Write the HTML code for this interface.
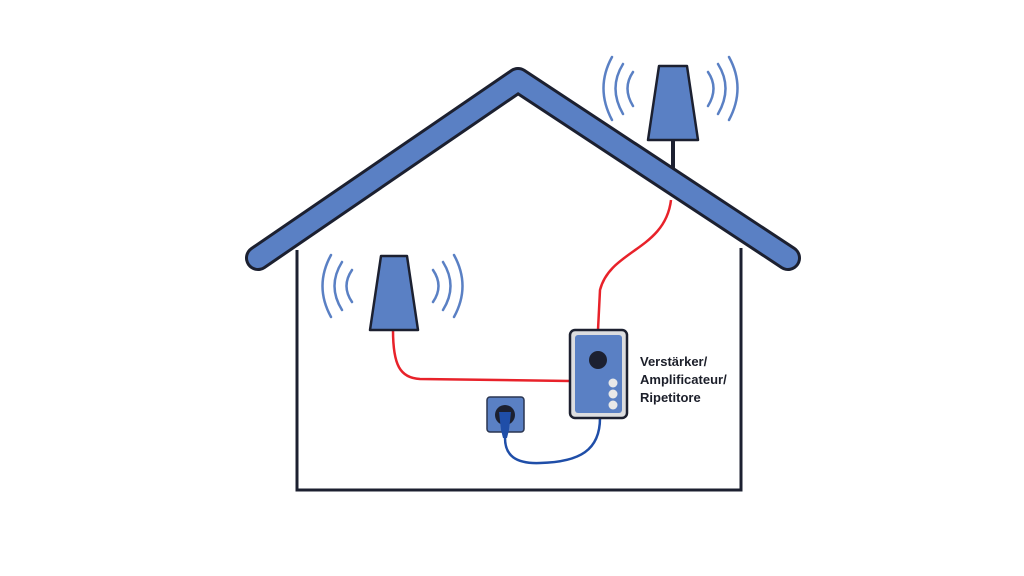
<!DOCTYPE html>
<html><head><style>
body{margin:0;background:#fff;}
svg{display:block}
text{font-family:"Liberation Sans",sans-serif;font-size:13px;font-weight:bold;fill:#1c1f2a}
</style></head><body>
<svg width="1024" height="576" viewBox="0 0 1024 576">
<!-- walls -->
<polyline points="297,250 297,490 741,490 741,248" fill="none" stroke="#1c2030" stroke-width="3"/>
<!-- top antenna pole -->
<line x1="673" y1="138" x2="673" y2="175" stroke="#1c2030" stroke-width="4"/>
<!-- roof -->
<polyline points="258,258 518,80 788,258" fill="none" stroke="#1c2030" stroke-width="26" stroke-linecap="round" stroke-linejoin="round"/>
<polyline points="258,258 518,80 788,258" fill="none" stroke="#5a80c4" stroke-width="20" stroke-linecap="round" stroke-linejoin="round"/>
<!-- red cables -->
<path d="M671,200 C665,250 610,250 600,290 L598,330" fill="none" stroke="#e8222a" stroke-width="2.5"/>
<path d="M393,330 C393,365 400,378 420,379 L570,381" fill="none" stroke="#e8222a" stroke-width="2.5"/>
<!-- blue cable -->
<path d="M600,418 C600,450 580,462 540,463 C515,464 505,455 505,438" fill="none" stroke="#1f4ea8" stroke-width="2.5"/>
<!-- top antenna -->
<polygon points="659,66 687,66 698,140 648,140" fill="#5a80c4" stroke="#1c2030" stroke-width="2.5" stroke-linejoin="round"/>
<g fill="none" stroke="#5a80c4" stroke-width="2.5" stroke-linecap="round">
<path d="M633,72 Q622,88 633,106"/><path d="M623,64 Q608,88 623,114"/><path d="M612,57 Q595,88 612,120"/>
<path d="M708,72 Q719,88 708,106"/><path d="M718,64 Q733,88 718,114"/><path d="M729,57 Q746,88 729,120"/>
<!-- left antenna waves -->
<path d="M352,270 Q341,286 352,302"/><path d="M342,262 Q327,286 342,310"/><path d="M331,255 Q314,286 331,317"/>
<path d="M433,270 Q444,286 433,302"/><path d="M443,262 Q458,286 443,310"/><path d="M454,255 Q471,286 454,317"/>
</g>
<polygon points="381,256 407,256 418,330 370,330" fill="#5a80c4" stroke="#1c2030" stroke-width="2.5" stroke-linejoin="round"/>
<!-- box -->
<rect x="570" y="330" width="57" height="88" rx="5" fill="#dcdde0" stroke="#1c2030" stroke-width="2.5"/>
<rect x="575" y="335" width="47" height="78" rx="3" fill="#5a80c4"/>
<circle cx="598" cy="360" r="9" fill="#1c2030"/>
<circle cx="613" cy="383" r="4.5" fill="#e8e8e8"/>
<circle cx="613" cy="394" r="4.5" fill="#e8e8e8"/>
<circle cx="613" cy="405" r="4.5" fill="#e8e8e8"/>
<!-- socket -->
<rect x="487" y="397" width="37" height="35" rx="3" fill="#5a80c4" stroke="#2a3550" stroke-width="1.5"/>
<circle cx="505" cy="415" r="10" fill="#1c2030"/>
<path d="M499,412 L511,412 L509,430 L507,438 L503,438 L501,430 Z" fill="#1f4ea8"/>
<text x="640" y="366">Verstärker/</text>
<text x="640" y="384">Amplificateur/</text>
<text x="640" y="402">Ripetitore</text>
</svg>
</body></html>
